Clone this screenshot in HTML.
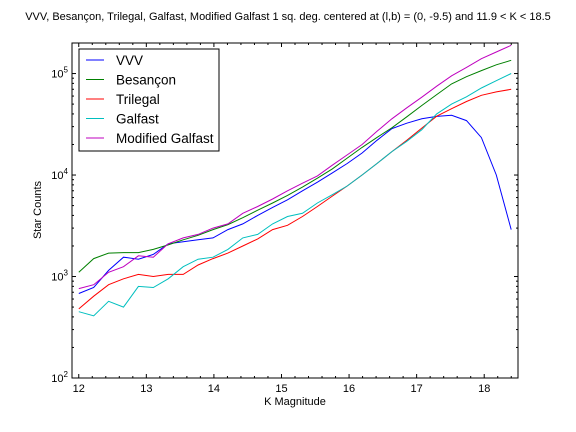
<!DOCTYPE html>
<html><head><meta charset="utf-8"><style>
html,body{margin:0;padding:0;background:#fff;}
svg{display:block;font-family:"Liberation Sans",sans-serif;}
</style></head><body>
<svg id="chart" width="576" height="432" viewBox="0 0 576 432">
<text x="288" y="20" font-size="11" text-anchor="middle">VVV, Besançon, Trilegal, Galfast, Modified Galfast 1 sq. deg. centered at (l,b) = (0, -9.5) and 11.9 &lt; K &lt; 18.5</text>
<g id="plot"></g>
<text x="295" y="405" font-size="11" text-anchor="middle">K Magnitude</text>
<text x="41" y="210" font-size="11" text-anchor="middle" transform="rotate(-90 41 210)">Star Counts</text>
</svg>
<script>
const magnitudes = [];
for (let i = 0; i < 30; i++) magnitudes.push(12 + i * 6.4 / 29);
const vvv = [680,780,1150,1550,1480,1650,2100,2200,2300,2400,2900,3300,4000,4800,5700,7000,8500,10500,13000,16500,22000,28700,32400,35800,37800,38800,34400,23400,10000,2900];
const besancon = [1100,1500,1700,1720,1720,1850,2050,2300,2550,2900,3250,3800,4500,5300,6300,7600,9300,11500,14700,18700,23500,29200,37500,48400,62000,79000,93000,107000,122000,135000];
const trilegal = [480,640,830,950,1050,1000,1050,1050,1300,1500,1700,2000,2350,2900,3200,3900,4900,6200,7800,10000,13000,17000,22000,29000,38000,45000,53000,61000,66000,70000];
const galfast = [450,410,570,500,800,780,950,1250,1480,1550,1850,2400,2600,3300,3900,4200,5300,6400,7800,10000,13000,17000,21500,28000,40000,50000,59000,72000,85000,100000];
const modGalfast = [760,830,1100,1250,1600,1550,2100,2400,2600,3000,3300,4200,4900,5800,7000,8300,9800,12500,15800,20000,27000,35800,46000,58500,75000,95000,115000,140000,163000,190000];
const xTicks = [12,13,14,15,16,17,18];
const yTickExps = [2,3,4,5];

const NS = "http://www.w3.org/2000/svg";
const L = 72, R = 518, T = 43, B = 378;
const xMin = 11.9, xMax = 18.5, yMin = 2, yMax = Math.log10(200000);
const xs = v => L + (v - xMin) / (xMax - xMin) * (R - L);
const ys = v => B - (Math.log10(v) - yMin) / (yMax - yMin) * (B - T);
const g = document.getElementById('plot');
function mk(tag, attrs) { const e = document.createElementNS(NS, tag); for (const k in attrs) e.setAttribute(k, attrs[k]); g.appendChild(e); return e; }

const series = [
  ['VVV', vvv, '#0000ff', 'series-vvv'],
  ['Besançon', besancon, '#008000', 'series-besancon'],
  ['Trilegal', trilegal, '#ff0000', 'series-trilegal'],
  ['Galfast', galfast, '#00bfbf', 'series-galfast'],
  ['Modified Galfast', modGalfast, '#bf00bf', 'series-modified-galfast']
];
series.forEach(s => {
  const pts = s[1].map((v, i) => xs(magnitudes[i]).toFixed(1) + ',' + ys(v).toFixed(1)).join(' ');
  const p = mk('polyline', {points: pts, fill: 'none', stroke: s[2], 'stroke-width': 1});
  
  
});

const fr = mk('rect', {x: L, y: T, width: R - L, height: B - T, fill: 'none', stroke: '#000', 'stroke-width': 1});



xTicks.forEach(t => {
  const x = xs(t);
  mk('line', {x1: x, y1: B, x2: x, y2: B - 4, stroke: '#000'});
  mk('line', {x1: x, y1: T, x2: x, y2: T + 4, stroke: '#000'});
  const tx = mk('text', {x: x, y: B + 14, 'font-size': 11, 'text-anchor': 'middle'});
  tx.textContent = t;
  
  
});
for (let v = 12.2; v < 18.5; v += 0.2) {
  if (Math.abs(v - Math.round(v)) < 0.01) continue;
  const x = xs(v);
  mk('line', {x1: x, y1: B, x2: x, y2: B - 2, stroke: '#000'});
  mk('line', {x1: x, y1: T, x2: x, y2: T + 2, stroke: '#000'});
}
yTickExps.forEach(e => {
  const y = ys(Math.pow(10, e));
  mk('line', {x1: L, y1: y, x2: L + 4, y2: y, stroke: '#000'});
  mk('line', {x1: R, y1: y, x2: R - 4, y2: y, stroke: '#000'});
  const tx = mk('text', {x: L - 4, y: y + 4, 'font-size': 11, 'text-anchor': 'end'});
  tx.innerHTML = '10<tspan dy="-5" font-size="8">' + e + '</tspan>';
  
  
  for (let m = 2; m < 10; m++) {
    const v = m * Math.pow(10, e);
    if (Math.log10(v) > yMax) break;
    const yy = ys(v);
    mk('line', {x1: L, y1: yy, x2: L + 2, y2: yy, stroke: '#000'});
    mk('line', {x1: R, y1: yy, x2: R - 2, y2: yy, stroke: '#000'});
  }
});

const lg = mk('rect', {x: 79, y: 49, width: 140, height: 102, fill: '#fff', stroke: '#000'});


series.forEach((s, i) => {
  const y = 60 + i * 19.5;
  mk('line', {x1: 86, y1: y, x2: 104, y2: y, stroke: s[2]});
  const tx = mk('text', {x: 116, y: y + 5, 'font-size': 13.5});
  tx.textContent = s[0];
  
  
});
</script>
</body></html>
